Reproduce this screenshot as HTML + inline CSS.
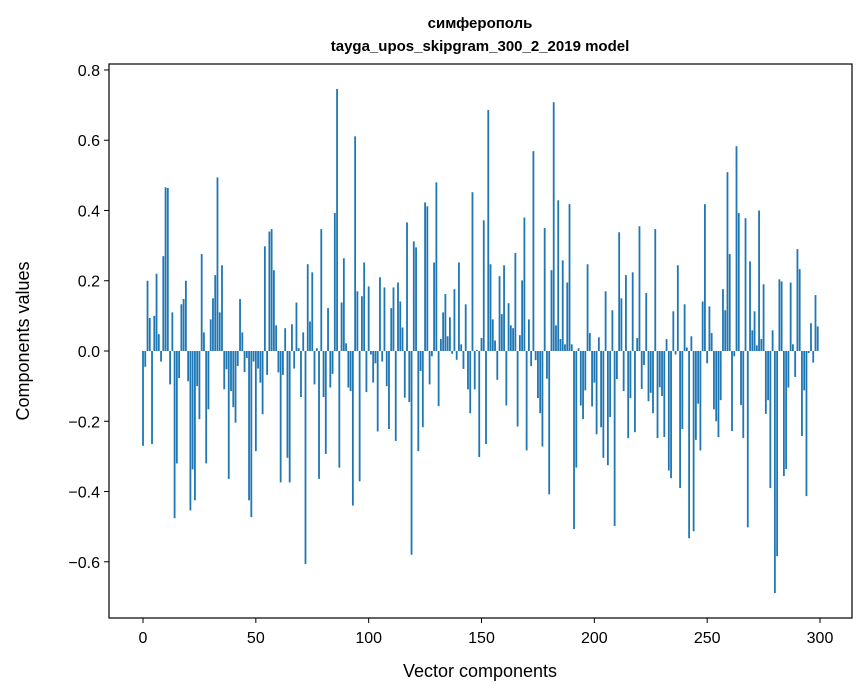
<!DOCTYPE html>
<html><head><meta charset="utf-8"><style>
html,body{margin:0;padding:0;background:#fff;}
svg{display:block;font-family:"Liberation Sans","DejaVu Sans",sans-serif;}
</style></head><body>
<svg id="chart" width="867" height="696" viewBox="0 0 867 696">
<rect x="0" y="0" width="867" height="696" fill="#fff"/>
<text x="480" y="28" text-anchor="middle" font-size="15" font-weight="bold">симферополь</text>
<text x="480" y="51" text-anchor="middle" font-size="15" font-weight="bold">tayga_upos_skipgram_300_2_2019 model</text>
<g id="bars"></g>
<g id="axes"></g>
<rect x="109" y="64" width="743" height="554" fill="none" stroke="#000" stroke-width="1.2"/>
<text x="480" y="677" text-anchor="middle" font-size="18">Vector components</text>
<text transform="translate(29,341) rotate(-90)" text-anchor="middle" font-size="18">Components values</text>
</svg>
<script>
const values = [
-0.27,-0.045,0.2,0.094,-0.265,0.10,0.22,0.048,-0.03,0.27,
0.466,0.464,-0.095,0.11,-0.476,-0.32,-0.077,0.133,0.148,0.2,
-0.086,-0.454,-0.337,-0.425,-0.1,-0.194,0.276,0.053,-0.32,-0.166,
0.09,0.15,0.216,0.494,0.11,0.244,-0.109,-0.052,-0.364,-0.114,
-0.16,-0.204,-0.043,0.148,0.053,-0.06,-0.02,-0.425,-0.473,-0.03,
-0.285,-0.05,-0.09,-0.18,0.298,-0.068,0.34,0.347,0.23,0.073,
-0.061,-0.374,-0.068,0.065,-0.304,-0.374,0.076,-0.05,0.138,0.008,
-0.131,0.053,-0.606,0.247,0.084,0.224,-0.095,0.008,-0.364,0.347,
-0.131,-0.293,0.122,-0.104,-0.065,0.393,0.746,-0.332,0.138,0.264,
0.022,-0.104,-0.114,-0.44,0.611,0.17,-0.371,0.156,0.252,-0.117,
0.184,-0.01,-0.09,-0.035,-0.229,0.21,-0.03,0.181,-0.1,-0.222,
0.122,0.181,-0.256,0.195,0.141,0.067,-0.133,0.366,-0.145,-0.58,
0.312,0.295,-0.285,-0.057,-0.217,0.423,0.412,-0.095,-0.015,0.252,
0.48,-0.157,0.034,0.11,0.162,0.042,0.096,-0.008,0.176,-0.025,
0.252,0.019,-0.051,0.133,-0.109,-0.177,0.452,-0.109,0.003,-0.302,
0.037,0.372,-0.265,0.686,0.247,0.09,0.03,-0.082,0.213,0.105,
0.244,-0.155,0.136,0.073,0.065,0.279,-0.215,0.045,0.201,0.38,
-0.283,0.09,-0.043,0.569,-0.026,-0.134,-0.177,-0.272,0.35,-0.079,
-0.408,0.23,0.708,0.073,0.429,0.034,0.258,0.019,0.195,0.418,
0.019,-0.507,-0.332,0.008,-0.155,-0.194,-0.112,0.247,0.051,-0.158,
-0.09,-0.237,0.039,-0.217,-0.304,0.17,-0.325,-0.188,0.116,-0.498,
-0.08,0.338,0.15,-0.114,0.216,-0.248,-0.134,0.224,-0.231,0.037,
0.355,-0.108,-0.04,0.165,-0.143,-0.119,-0.177,0.347,-0.248,-0.103,
-0.128,-0.245,0.034,-0.34,-0.362,0.113,-0.01,0.244,-0.39,-0.222,
0.133,0.01,-0.533,0.042,-0.513,-0.253,-0.15,-0.283,0.141,0.418,
-0.035,0.127,0.051,-0.166,-0.2,-0.245,-0.14,0.176,0.116,0.509,
0.276,-0.228,-0.015,0.583,0.393,-0.154,-0.248,0.378,-0.502,0.255,
0.059,0.113,0.016,0.4,0.034,0.19,-0.179,-0.14,-0.39,0.059,
-0.689,-0.584,0.204,0.198,-0.356,-0.336,-0.104,0.195,0.019,-0.074,
0.29,0.233,-0.242,-0.112,-0.413,-0.006,0.079,-0.033,0.159,0.07
];
const xTicks = [0,50,100,150,200,250,300];
const yTicks = [-0.6,-0.4,-0.2,0.0,0.2,0.4,0.6,0.8];

const NS = 'http://www.w3.org/2000/svg';
const X0 = 143, XS = (820-143)/300;
const Y0 = 351, YS = 351.3;
function xScale(v){ return X0 + v*XS; }
function yScale(v){ return Y0 - v*YS; }

const barsG = document.getElementById('bars');
values.forEach((v,i)=>{
  const r = document.createElementNS(NS,'rect');
  const y1 = yScale(Math.max(v,0)), y2 = yScale(Math.min(v,0));
  r.setAttribute('x', xScale(i-0.4));
  r.setAttribute('width', XS*0.8);
  r.setAttribute('y', y1);
  r.setAttribute('height', Math.max(y2-y1,0.01));
  r.setAttribute('fill', '#1f77b4');
  
  
  barsG.appendChild(r);
});

const axesG = document.getElementById('axes');
xTicks.forEach(t=>{
  const x = xScale(t);
  const l = document.createElementNS(NS,'line');
  l.setAttribute('x1',x); l.setAttribute('x2',x);
  l.setAttribute('y1',618); l.setAttribute('y2',623);
  l.setAttribute('stroke','#000');
  
  
  axesG.appendChild(l);
  const tx = document.createElementNS(NS,'text');
  tx.setAttribute('x',x); tx.setAttribute('y',643);
  tx.setAttribute('text-anchor','middle'); tx.setAttribute('font-size','16');
  tx.textContent = String(t);
  
  
  axesG.appendChild(tx);
});
yTicks.forEach(t=>{
  const y = yScale(t);
  const l = document.createElementNS(NS,'line');
  l.setAttribute('x1',104); l.setAttribute('x2',109);
  l.setAttribute('y1',y); l.setAttribute('y2',y);
  l.setAttribute('stroke','#000');
  
  
  axesG.appendChild(l);
  const tx = document.createElementNS(NS,'text');
  tx.setAttribute('x',100); tx.setAttribute('y',y+6);
  tx.setAttribute('text-anchor','end'); tx.setAttribute('font-size','16');
  tx.textContent = (t<0?'\u2212':'') + Math.abs(t).toFixed(1);
  
  
  axesG.appendChild(tx);
});
</script>
</body></html>
